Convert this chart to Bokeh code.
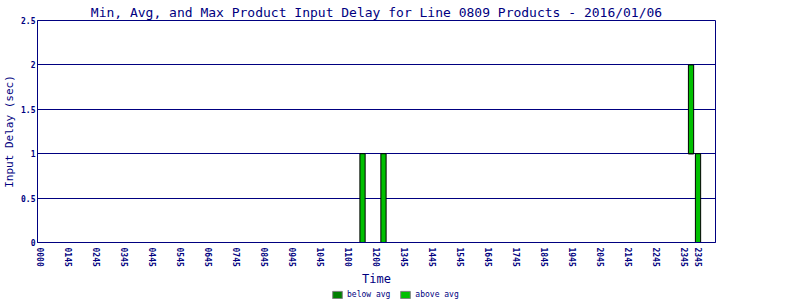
from bokeh.plotting import figure
from bokeh.layouts import column
from bokeh.models import Range1d, FixedTicker, Legend, LegendItem, ColumnDataSource
from bokeh.embed import file_html
from bokeh.resources import INLINE

# --- data ---
n_slots = 97
tick_slots = [0, 4, 8, 12, 16, 20, 24, 28, 32, 36, 40, 44, 48, 52, 56, 60, 64, 68, 72, 76, 80, 84, 88, 92, 94]
tick_labels = ["0000", "0145", "0245", "0345", "0445", "0545", "0645", "0745", "0845", "0945",
               "1045", "1100", "1200", "1345", "1445", "1545", "1645", "1745", "1845", "1945",
               "2045", "2145", "2245", "2345", "2345"]
bar_slots = [46, 49, 93, 94]
min_delay = [0, 0, 1, 0]
avg_delay = [0, 0, 1, 0]
max_delay = [1, 1, 2, 1]
y_ticks = [0, 0.5, 1, 1.5, 2, 2.5]
series_names = ["below avg", "above avg"]

NAVY = "#000080"
DARK = "#008000"
LIGHT = "#00C000"
FONT = "DejaVu Sans Mono"

p = figure(width=800, height=288, output_backend="svg", toolbar_location=None,
           x_range=Range1d(-0.5, n_slots - 0.5), y_range=Range1d(0, 2.5),
           min_border_left=37, min_border_right=85, min_border_top=20, min_border_bottom=46,
           title="Min, Avg, and Max Product Input Delay for Line 0809 Products - 2016/01/06")

p.title.align = "center"
p.title.text_color = NAVY
p.title.text_font = FONT
p.title.text_font_size = "13px"
p.title.text_font_style = "normal"
p.title.standoff = 2
p.title.offset = 0

p.outline_line_color = NAVY
p.outline_line_width = 1
p.background_fill_color = "white"
p.border_fill_color = "white"

# axes
xa = p.xaxis[0]
xa.ticker = FixedTicker(ticks=tick_slots)
xa.major_label_overrides = {s: l for s, l in zip(tick_slots, tick_labels)}
xa.major_label_orientation = "vertical"
xa.axis_label = "Time"
ya = p.yaxis[0]
ya.ticker = FixedTicker(ticks=y_ticks)
ya.axis_label = "Input Delay (sec)"
for ax in (xa, ya):
    ax.axis_line_color = NAVY
    ax.major_tick_line_color = None
    ax.minor_tick_line_color = None
    ax.major_tick_out = 0
    ax.major_tick_in = 0
    ax.minor_tick_out = 0
    ax.minor_tick_in = 0
    ax.major_label_text_color = NAVY
    ax.major_label_text_font = FONT
    ax.major_label_text_font_size = "8px"
    ax.major_label_text_font_style = "bold"
    ax.axis_label_text_color = NAVY
    ax.axis_label_text_font = FONT
    ax.axis_label_text_font_style = "normal"
    ax.axis_label_text_font_size = "12px"
xa.major_label_standoff = 5
xa.axis_label_standoff = 2
ya.major_label_standoff = 2
ya.axis_label_standoff = 2
ya.axis_label_text_font_size = "11px"

p.xgrid.grid_line_color = None
p.ygrid.ticker = FixedTicker(ticks=y_ticks)
p.ygrid.grid_line_color = NAVY
p.ygrid.grid_line_alpha = 1

src = ColumnDataSource(dict(x=bar_slots, lo=min_delay, avg=avg_delay, hi=max_delay))
p.vbar(x="x", bottom="lo", top="avg", width=0.75, fill_color=DARK, line_color="black", source=src)
p.vbar(x="x", bottom="avg", top="hi", width=0.75, fill_color=LIGHT, line_color="black", source=src)

# legend strip below the chart (its swatch renderers sit outside the strip's visible range)
lg = figure(width=800, height=12, output_backend="svg", toolbar_location=None,
            x_range=Range1d(0, 1), y_range=Range1d(0, 1),
            min_border_left=0, min_border_right=0, min_border_top=0, min_border_bottom=0)
lg.axis.visible = False
lg.grid.visible = False
lg.outline_line_color = None
r_below = lg.vbar(x=[-5], bottom=[-5], top=[-4], width=0.1, fill_color=DARK, line_color="#808080")
r_above = lg.vbar(x=[-5], bottom=[-5], top=[-4], width=0.1, fill_color=LIGHT, line_color="#808080")
legend = Legend(items=[LegendItem(label=series_names[0], renderers=[r_below]),
                       LegendItem(label=series_names[1], renderers=[r_above])],
                orientation="horizontal", location=(294, 1),
                label_text_font=FONT, label_text_font_size="8px", label_text_color=NAVY,
                label_height=9, glyph_width=12, glyph_height=9, label_standoff=4, spacing=9,
                padding=0, margin=0, border_line_color=None, background_fill_alpha=0)
lg.add_layout(legend, "center")

layout = column(p, lg, spacing=0)
open("out.html", "w").write(file_html(layout, INLINE))
